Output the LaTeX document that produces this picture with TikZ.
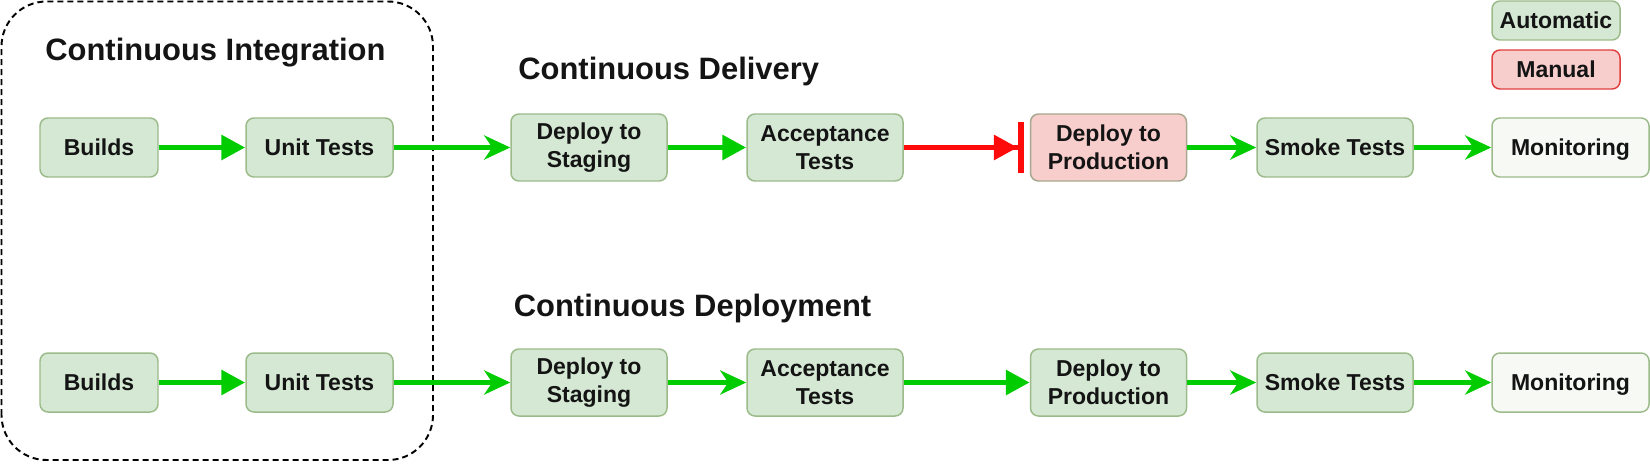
\documentclass[tikz,border=0pt]{standalone}
\usepackage{fontspec}
\setmainfont{Liberation Sans}
\usetikzlibrary{positioning,arrows.meta}

\definecolor{autofill}{HTML}{D5E8D4}
\definecolor{autodraw}{HTML}{9CBB8A}
\definecolor{manfill}{HTML}{F8CECC}
\definecolor{mandraw}{HTML}{E04040}
\definecolor{proddraw}{HTML}{A8A890}
\definecolor{monfill}{HTML}{F7F9F5}
\definecolor{flowgreen}{HTML}{00CC00}
\definecolor{flowred}{HTML}{FF0A0A}

\begin{document}
\begin{tikzpicture}[
    every node/.style={font=\fontsize{13.1}{15.9}\selectfont\bfseries, text=black!92, align=center},
    stage/.style={draw=autodraw, fill=autofill, line width=0.85pt, rounded corners=4.5pt,
        minimum height=1.18cm, inner sep=0pt},
    tallstage/.style={stage, minimum height=1.34cm, minimum width=3.12cm},
    monitorbox/.style={stage, minimum width=3.14cm, fill=monfill, text depth=0pt},
    title/.style={font=\fontsize{17.6}{20}\selectfont\bfseries, anchor=base west, inner sep=0pt},
    flow/.style={draw=flowgreen, line width=3.4pt, -{Triangle[length=0.48cm,width=0.48cm]}},
    flowopen/.style={draw=flowgreen, line width=3.4pt, -{Stealth[length=0.52cm,width=0.48cm,inset=0.16cm]}},
    flowstop/.style={draw=flowred, line width=3.4pt, shorten >=0.12cm,
        -{Triangle[length=0.48cm,width=0.48cm] Bar[width=1cm]}}
]

\useasboundingbox (0,0) rectangle (33,9.26);

% CI frame
\draw[line width=1.1pt, dash pattern=on 0.12cm off 0.08cm, rounded corners=0.9cm]
    (0.03,0.06) rectangle (8.66,9.23);

% Titles
\node[title] (ci) at (0.9,8.04) {Continuous Integration};
\node[title] (cdel) at (10.36,7.66) {Continuous Delivery};
\node[title] (cdep) at (10.27,2.94) {Continuous Deployment};

% Legend
\node[stage, minimum width=2.56cm, minimum height=0.78cm] (legauto) at (31.12,8.85) {Automatic};
\node[stage, draw=mandraw, fill=manfill, minimum width=2.56cm, minimum height=0.78cm] (legman) at (31.12,7.87) {Manual};

% === TOP ROW: Continuous Delivery ===
\node[stage, minimum width=2.36cm] (build1) at (1.98,6.31) {Builds};
\node[stage, minimum width=2.94cm] (unit1) at (6.39,6.31) {Unit Tests};
\node[tallstage] (staging1) at (11.78,6.31) {Deploy to\\Staging};
\node[tallstage] (accept1) at (16.5,6.31) {Acceptance\\Tests};
\node[tallstage, draw=proddraw, fill=manfill] (prod1) at (22.17,6.31) {Deploy to\\Production};
\node[stage, minimum width=3.12cm] (smoke1) at (26.7,6.31) {Smoke Tests};
\node[monitorbox] (monitor1) at (31.41,6.31) {Monitoring};

\draw[flow] (build1) -- (unit1);
\draw[flowopen] (unit1) -- (staging1);
\draw[flow] (staging1) -- (accept1);
\draw[flowstop] (accept1) -- (prod1);
\draw[flowopen] (prod1) -- (smoke1);
\draw[flowopen] (smoke1) -- (monitor1);

% === BOTTOM ROW: Continuous Deployment ===
\node[stage, minimum width=2.36cm] (build2) at (1.98,1.61) {Builds};
\node[stage, minimum width=2.94cm] (unit2) at (6.39,1.61) {Unit Tests};
\node[tallstage] (staging2) at (11.78,1.61) {Deploy to\\Staging};
\node[tallstage] (accept2) at (16.5,1.61) {Acceptance\\Tests};
\node[tallstage] (prod2) at (22.17,1.61) {Deploy to\\Production};
\node[stage, minimum width=3.12cm] (smoke2) at (26.7,1.61) {Smoke Tests};
\node[monitorbox] (monitor2) at (31.41,1.61) {Monitoring};

\draw[flow] (build2) -- (unit2);
\draw[flowopen] (unit2) -- (staging2);
\draw[flowopen] (staging2) -- (accept2);
\draw[flow] (accept2) -- (prod2);
\draw[flowopen] (prod2) -- (smoke2);
\draw[flowopen] (smoke2) -- (monitor2);

\end{tikzpicture}
\end{document}
